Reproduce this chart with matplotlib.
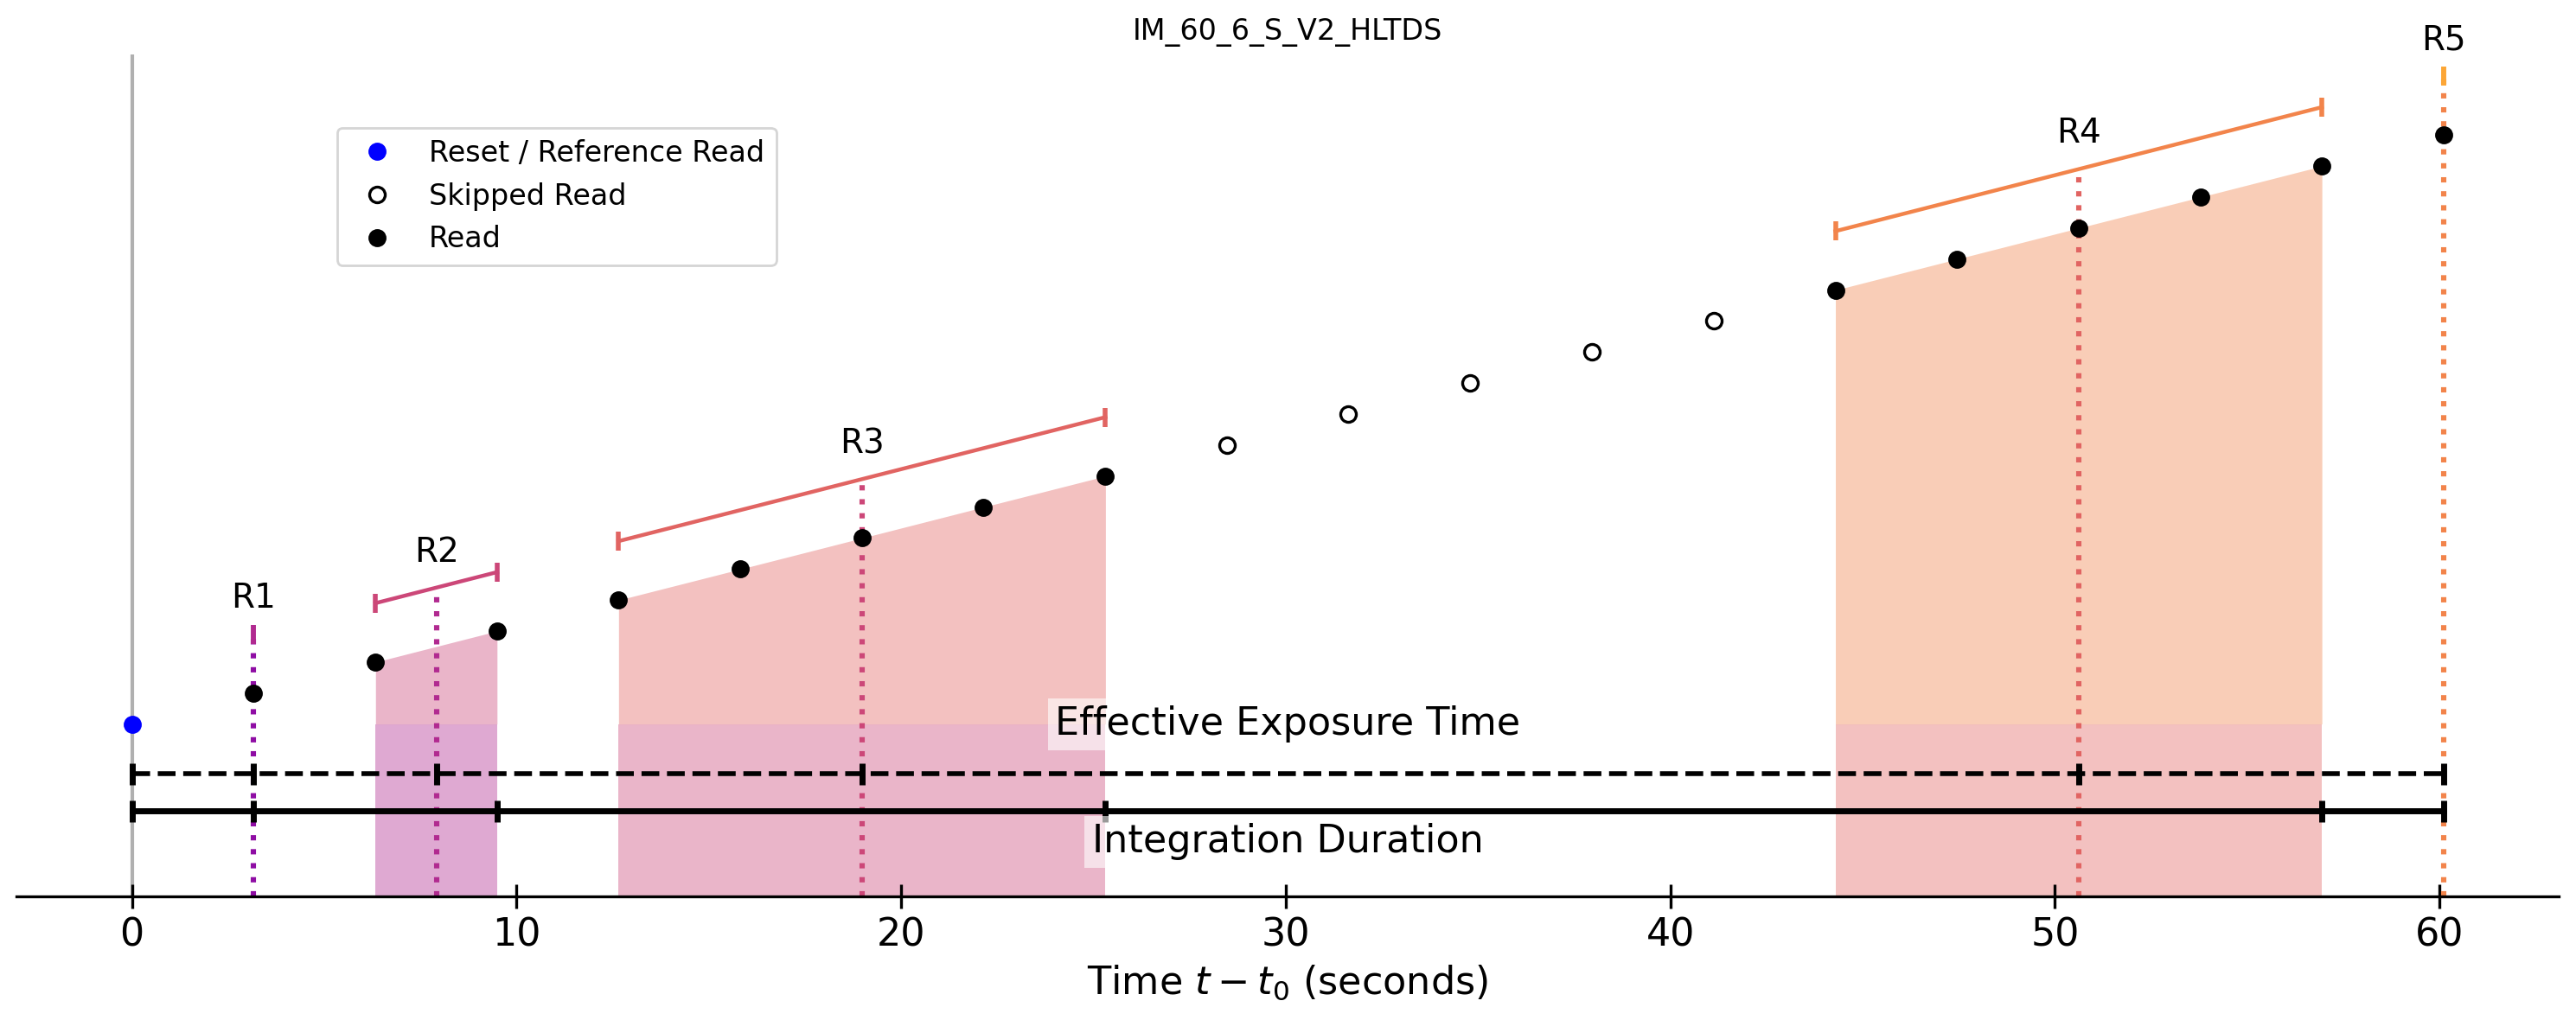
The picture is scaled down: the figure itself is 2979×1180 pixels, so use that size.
import numpy as np
import matplotlib
matplotlib.use("Agg")
import matplotlib.pyplot as plt

# read times (s) and accumulated signal for each read
read_times = [0.0, 3.16, 6.33, 9.49, 12.65, 15.82, 18.98, 22.14, 25.31, 28.47,
              31.63, 34.80, 37.96, 41.12, 44.29, 47.45, 50.61, 53.78, 56.94, 60.10]
read_signal = [0, 1, 2, 3, 4, 5, 6, 7, 8, 9, 10, 11, 12, 13, 14, 15, 16, 17, 18, 19]

reset_idx = [0]
skipped_idx = [9, 10, 11, 12, 13]
groups = [[1], [2, 3], [4, 5, 6, 7, 8], [14, 15, 16, 17, 18], [19]]
group_labels = ["R1", "R2", "R3", "R4", "R5"]

title = "IM_60_6_S_V2_HLTDS"

t = np.array(read_times)
s = np.array(read_signal, dtype=float)

colors = plt.cm.plasma(np.linspace(0.3, 0.8, 6))

fig = plt.figure(figsize=(2979 / 200, 1180 / 200), dpi=200)
ax = fig.add_axes([0.0064, 0.1212, 0.987, 0.8254])

ybot, ytop = -5.56, 21.6
off = 1.9

ax.axvline(0, color="#b0b0b0", lw=1.5, zorder=1)

for k, g in enumerate(groups):
    gt = t[g]
    gs = s[g]
    mt = gt.mean()
    ms = gs.mean()
    if len(g) > 1:
        ax.fill_between(gt, ybot, 0, color=colors[k], alpha=0.4, lw=0, zorder=1)
        ax.fill_between(gt, 0, gs, color=colors[k + 1], alpha=0.4, lw=0, zorder=1)
    # dotted line at mean time
    ax.plot([mt, mt], [ybot, ms + off], ls=":", lw=2.2, color=colors[k], zorder=2)
    # bracket
    ax.plot([gt[0], gt[-1]], [gs[0] + off, gs[-1] + off], color=colors[k + 1],
            lw=1.6, marker="|", ms=8, mew=2, zorder=3)
    ax.text(mt, ms + off + 1.15, group_labels[k], ha="center", va="center",
            fontsize=14)

# effective exposure / integration duration lines
means = [0.0] + [t[g].mean() for g in groups]
ends = [0.0] + [t[g][-1] for g in groups]
y_eff = -1.59
y_int = -2.8
ax.plot([means[0], means[-1]], [y_eff, y_eff], color="black", ls="--", lw=2, zorder=4)
ax.plot(means, [y_eff] * len(means), ls="none", marker="|", ms=9, mew=2.5,
        color="black", zorder=4)
ax.plot([ends[0], ends[-1]], [y_int, y_int], color="black", ls="-", lw=2.5, zorder=4)
ax.plot(ends, [y_int] * len(ends), ls="none", marker="|", ms=9, mew=2.5,
        color="black", zorder=4)

mid = (t[0] + t[-1]) / 2
ax.text(mid, 0, "Effective Exposure Time", ha="center", va="center",
        fontsize=16, zorder=6,
        bbox=dict(facecolor="white", alpha=0.6, edgecolor="none", pad=3))
ax.text(mid, -3.8, "Integration Duration", ha="center", va="center",
        fontsize=16, zorder=6,
        bbox=dict(facecolor="white", alpha=0.6, edgecolor="none", pad=3))

# reads
read_idx = [i for g in groups for i in g]
ax.plot(t[reset_idx], s[reset_idx], "o", color="blue", ms=6.5, ls="none",
        zorder=5, label="Reset / Reference Read")
ax.plot(t[skipped_idx], s[skipped_idx], "o", mfc="white", mec="black", mew=1.2,
        ms=6.5, ls="none", zorder=5, label="Skipped Read")
ax.plot(t[read_idx], s[read_idx], "o", color="black", ms=6.5, ls="none",
        zorder=5, label="Read")

ax.set_ylim(ybot, ytop)
ax.set_yticks([])
for sp in ["left", "top", "right"]:
    ax.spines[sp].set_visible(False)
ax.spines["bottom"].set_linewidth(1.2)
ax.tick_params(axis="x", direction="inout", length=10, width=1.2, labelsize=16)
ax.set_xlabel("Time $t - t_0$ (seconds)", fontsize=16)
ax.set_title(title, fontsize=12)

ax.legend(loc="upper left", bbox_to_anchor=(0.126, 0.913), borderaxespad=0,
          fontsize=12, framealpha=1, edgecolor="#d5d5d5")

fig.savefig("out.png", dpi=200)
